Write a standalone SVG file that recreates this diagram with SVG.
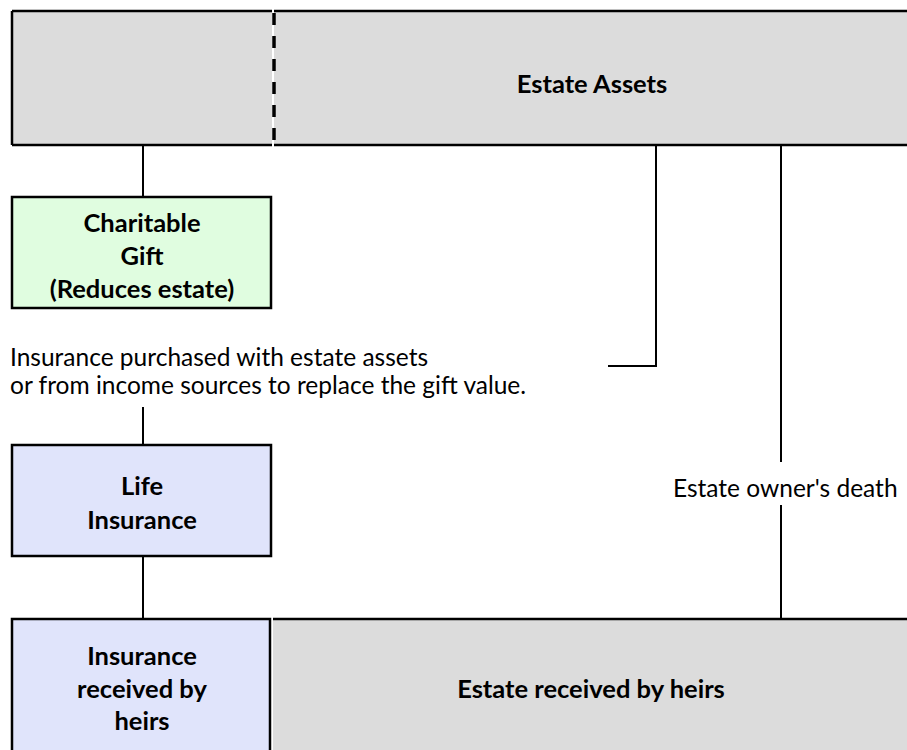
<svg xmlns="http://www.w3.org/2000/svg" width="907" height="750" viewBox="0 0 907 750">
<style>
.box{stroke:#000;stroke-width:2.5}
.gray{fill:#dcdcdc}
.green{fill:#e0fde0}
.blue{fill:#e0e4fb}
.t{font-family:Lato,"Liberation Sans",sans-serif;font-size:25.5px;font-weight:bold;fill:#000;text-anchor:middle;dominant-baseline:central}
.c{font-family:Lato,"Liberation Sans",sans-serif;font-size:24.5px;fill:#000;dominant-baseline:central}
.ln{stroke:#000;stroke-width:2;fill:none}
</style>
<rect width="907" height="750" fill="#fff"/>
<g id="estate-assets">
<rect x="12" y="11" width="260" height="134" class="gray"/>
<rect x="274" y="11" width="640" height="134" class="gray"/>
<path d="M12 11H272M274 11H914M12 145H272M274 145H914M12 11V145" class="box" fill="none"/>
<line x1="274" y1="13" x2="274" y2="145" stroke="#000" stroke-width="3.5" stroke-dasharray="12,11"/>
<text x="592" y="83" class="t">Estate Assets</text>
</g>
<g id="charitable-gift">
<rect x="12" y="197" width="259" height="111" class="green box"/>
<text x="142" y="222" class="t">Charitable</text>
<text x="142" y="255" class="t">Gift</text>
<text x="142" y="288" class="t">(Reduces estate)</text>
</g>
<g id="life-insurance">
<rect x="12" y="445" width="259" height="111" class="blue box"/>
<text x="142" y="485" class="t">Life</text>
<text x="142" y="519" class="t">Insurance</text>
</g>
<g id="insurance-received">
<rect x="12" y="619" width="258" height="140" class="blue box"/>
<text x="142" y="655" class="t">Insurance</text>
<text x="142" y="688" class="t">received by</text>
<text x="142" y="720" class="t">heirs</text>
</g>
<g id="estate-received">
<rect x="273" y="619" width="640" height="140" class="gray"/>
<path d="M273 619H914" class="box" fill="none"/>
<text x="591" y="688" class="t">Estate received by heirs</text>
</g>
<g id="connectors">
<line x1="143" y1="145" x2="143" y2="197" class="ln"/>
<path d="M656 145V366H608" class="ln"/>
<line x1="143" y1="407" x2="143" y2="445" class="ln"/>
<line x1="143" y1="556" x2="143" y2="619" class="ln"/>
<line x1="781" y1="145" x2="781" y2="462" class="ln"/>
<line x1="781" y1="505" x2="781" y2="619" class="ln"/>
</g>
<g id="labels">
<text x="10" y="356" class="c">Insurance purchased with estate assets</text>
<text x="10" y="384" class="c">or from income sources to replace the gift value.</text>
<text x="673" y="487" class="c">Estate owner's death</text>
</g>
</svg>
